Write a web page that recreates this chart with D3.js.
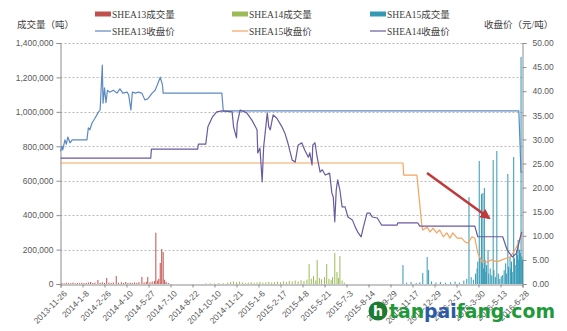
<!DOCTYPE html>
<html><head><meta charset="utf-8">
<script src="https://cdn.jsdelivr.net/npm/d3@7"></script>
<style>
html,body{margin:0;padding:0;background:#fff;}
svg{display:block;}
</style></head>
<body>
<svg id="chart" width="567" height="331"></svg>
<script>
// ---------- DATA ----------
// x positions are trading-day indices (0 = 2013-11-26), ticks every 30 trading days
const xTickLabels = ["2013-11-26","2014-1-8","2014-2-26","2014-4-10","2014-5-27","2014-7-10","2014-8-22","2014-10-10","2014-11-21","2015-1-6","2015-2-17","2015-4-8","2015-5-21","2015-7-3","2015-8-14","2015-9-29","2015-11-17","2015-12-29","2016-2-17","2016-3-30","2016-5-13","2016-6-28"];
const leftTicks = [0,200000,400000,600000,800000,1000000,1200000,1400000];
const rightTicks = [0,5,10,15,20,25,30,35,40,45,50];

const seriesNames = ["SHEA13成交量","SHEA14成交量","SHEA15成交量","SHEA13收盘价","SHEA15收盘价","SHEA14收盘价"];

// volume (tons) [dayIndex, volume]
const vol13 = [[2,6000],[5,4000],[8,7000],[11,5000],[14,5000],[17,8000],[20,4000],[23,6000],[26,5000],[29,7000],[32,5000],[35,6000],[38,9000],[41,12000],[44,6000],[47,8000],[51,23000],[54,7000],[57,10000],[60,6000],[63,35000],[66,8000],[69,6000],[72,9000],[76,46000],[79,7000],[83,10000],[86,6000],[89,12000],[92,5000],[95,8000],[98,6000],[101,9000],[104,7000],[107,11000],[111,41000],[114,9000],[117,13000],[119,41000],[122,10000],[125,14000],[128,18000],[130,298000],[132,20000],[134,30000],[136,122000],[138,203000],[140,186000],[142,25000],[144,12000],[147,6000]];
const vol14 = [[198,4000],[204,5000],[210,3000],[216,6000],[222,5000],[228,8000],[232,12000],[236,15000],[240,10000],[244,14000],[248,9000],[252,6000],[256,8000],[260,11000],[264,7000],[268,9000],[272,12000],[276,8000],[280,10000],[284,13000],[288,9000],[292,11000],[296,14000],[300,10000],[304,16000],[308,12000],[312,18000],[316,14000],[320,20000],[324,15000],[328,22000],[332,18000],[336,25000],[339,116000],[342,30000],[345,46000],[348,20000],[350,139000],[353,35000],[356,28000],[360,40000],[363,116000],[366,30000],[369,22000],[371,40000],[374,180000],[377,70000],[379,35000],[381,163000],[384,20000],[387,8000]];
const vol15 = [[467,110000],[472,8000],[478,12000],[485,6000],[490,10000],[494,64000],[500,157000],[502,81000],[506,15000],[512,9000],[518,12000],[525,7000],[532,10000],[538,14000],[544,8000],[550,20000],[554,30000],[557,505000],[560,40000],[563,25000],[566,60000],[568,90000],[569,130000],[571,715000],[572,150000],[574,523000],[575,120000],[576,529000],[577,90000],[578,558000],[579,140000],[580,70000],[581,110000],[583,198000],[584,60000],[586,90000],[588,50000],[590,720000],[591,80000],[593,40000],[595,773000],[597,60000],[599,30000],[601,45000],[603,52000],[605,80000],[607,120000],[608,60000],[610,639000],[611,100000],[613,157000],[614,90000],[615,130000],[616,70000],[618,738000],[619,150000],[620,110000],[622,198000],[623,170000],[624,256000],[625,140000],[626,200000],[627,180000],[628,1319000],[629,160000],[630,140000]];

// closing price (yuan/ton) [dayIndex, price]
const price13 = [[0,27.5],[2,28.6],[3,27.8],[6,29.9],[8,29.0],[10,30.5],[13,29.3],[16,29.9],[36,29.9],[38,32.4],[40,32.0],[43,33.4],[47,34.4],[51,35.5],[54,36.1],[57,45.4],[58,37.5],[60,40.7],[62,37.6],[64,40.2],[67,39.8],[72,40.2],[77,39.6],[81,40.5],[85,39.6],[91,39.8],[93,39.2],[96,36.1],[98,39.8],[102,39.6],[106,39.8],[111,39.6],[115,38.2],[119,38.4],[125,39.6],[129,40.2],[132,41.3],[136,42.9],[139,41.3],[140,39.6],[220,39.6],[222,35.9],[625,35.9],[628,23.2],[630,23.2]];
const price14 = [[0,26.1],[123,26.1],[124,28.0],[187,28.0],[188,29.0],[198,29.0],[201,32.6],[207,34.6],[213,35.7],[220,35.9],[234,35.7],[236,32.6],[240,30.3],[241,33.4],[245,36.1],[254,35.5],[261,34.0],[268,32.0],[269,27.2],[272,28.2],[275,21.2],[277,28.4],[282,35.5],[284,32.6],[286,32.0],[290,35.1],[295,34.4],[302,32.6],[306,31.3],[310,29.3],[316,25.7],[320,25.3],[324,28.8],[329,29.3],[333,27.8],[338,26.3],[340,27.2],[343,24.7],[344,28.8],[347,29.3],[350,26.3],[354,23.2],[357,23.7],[361,22.6],[367,23.0],[370,18.9],[372,18.0],[374,12.9],[376,19.5],[378,21.6],[381,19.5],[384,16.0],[388,16.0],[392,13.9],[398,13.3],[402,11.8],[406,10.6],[410,9.8],[413,11.8],[418,14.7],[422,14.7],[425,13.9],[432,13.7],[438,12.2],[459,12.2],[460,12.7],[487,12.7],[490,12.0],[565,12.0],[569,9.8],[603,9.8],[609,7.1],[616,5.6],[622,6.4],[626,9.1],[629,10.8]];
const price15 = [[0,25.1],[467,25.1],[468,22.6],[486,22.6],[493,11.8],[494,11.2],[500,11.8],[504,10.8],[508,11.6],[513,10.6],[517,11.2],[522,9.8],[527,10.6],[531,9.5],[535,10.6],[541,9.5],[547,9.5],[552,8.7],[556,8.5],[561,9.8],[565,9.5],[569,6.4],[575,4.6],[582,4.6],[588,5.0],[595,4.6],[602,5.0],[609,5.4],[613,5.6],[617,6.4],[622,7.7],[626,9.1],[629,10.8]];

// ---------- CHART ----------
const svg = d3.select("#chart");
const colors = {v13:"#c0504d", v14:"#9bbb59", v15:"#3399b5", p13:"#5d89c2", p15:"#f5a460", p14:"#6a5a9e"};
const fontLatin = "'Liberation Serif','Noto Sans CJK SC',serif";
const fontNum = "'Liberation Sans',Arial,sans-serif";

const x = d3.scaleLinear().domain([0,630]).range([60.5,522.5]);
const yL = d3.scaleLinear().domain([0,1400000]).range([284,43]);
const yR = d3.scaleLinear().domain([0,50]).range([284,43]);

// gridlines
svg.append("g").selectAll("line").data(leftTicks.filter(d=>d>0)).join("line")
  .attr("x1",60.5).attr("x2",522.5)
  .attr("y1",d=>Math.round(yL(d))+0.5).attr("y2",d=>Math.round(yL(d))+0.5)
  .attr("stroke","#a6a6a6").attr("stroke-width",0.8).attr("stroke-dasharray","2,2");

// axes
const fmt = d3.format(",");
const gL = svg.append("g").attr("transform","translate(60.5,0)")
  .call(d3.axisLeft(yL).tickValues(leftTicks).tickFormat(fmt).tickSize(4).tickPadding(3));
const gR = svg.append("g").attr("transform","translate(522.5,0)")
  .call(d3.axisRight(yR).tickValues(rightTicks).tickFormat(d3.format(".2f")).tickSize(4).tickPadding(6));
const gB = svg.append("g").attr("transform","translate(0,284.5)")
  .call(d3.axisBottom(x).tickValues(xTickLabels.map((d,i)=>i*30)).tickFormat((d,i)=>xTickLabels[i]).tickSize(3).tickPadding(2));
[gL,gR,gB].forEach(g=>{
  g.select(".domain").attr("stroke","#8c8c8c");
  g.selectAll(".tick line").attr("stroke","#8c8c8c");
  g.selectAll("text").attr("fill","#595959").style("font-family",fontNum).style("font-size","8.5px");
});
gB.selectAll("text").attr("text-anchor","end").attr("dx","0").attr("dy","0")
  .attr("transform","translate(3,6) rotate(-45)");

// bars
function bars(data,color){
  svg.append("g").selectAll("rect").data(data).join("rect")
    .attr("x",d=>x(d[0])-0.5).attr("width",1)
    .attr("y",d=>yL(d[1])).attr("height",d=>yL(0)-yL(d[1]))
    .attr("fill",color);
}
bars(vol13,colors.v13);
bars(vol14,colors.v14);
bars(vol15,colors.v15);

// lines
const line = d3.line().x(d=>x(d[0])).y(d=>yR(d[1]));
function drawLine(data,color){
  svg.append("path").datum(data).attr("d",line).attr("fill","none")
    .attr("stroke",color).attr("stroke-width",1.2).attr("stroke-linejoin","round");
}
drawLine(price13,colors.p13);
drawLine(price15,colors.p15);
drawLine(price14,colors.p14);

// axis titles
svg.append("text").attr("x",17).attr("y",28).text("成交量（吨）")
  .style("font-family",fontLatin).style("font-size","9.5px").attr("fill","#404040");
svg.append("text").attr("x",484).attr("y",28).text("收盘价（元/吨）")
  .style("font-family",fontLatin).style("font-size","9.5px").attr("fill","#404040");

// legend
const legendItems = [
  {name:seriesNames[0],color:colors.v13,type:"bar",x:95,y:14},
  {name:seriesNames[1],color:colors.v14,type:"bar",x:232,y:14},
  {name:seriesNames[2],color:colors.v15,type:"bar",x:370,y:14},
  {name:seriesNames[3],color:colors.p13,type:"line",x:95,y:31},
  {name:seriesNames[4],color:colors.p15,type:"line",x:232,y:31},
  {name:seriesNames[5],color:colors.p14,type:"line",x:370,y:31}
];
const lg = svg.append("g").selectAll("g").data(legendItems).join("g")
  .attr("transform",d=>`translate(${d.x},${d.y})`);
lg.filter(d=>d.type==="bar").append("rect").attr("x",0).attr("y",-2.5).attr("width",16).attr("height",5).attr("fill",d=>d.color);
lg.filter(d=>d.type==="line").append("line").attr("x1",0).attr("x2",16).attr("y1",0).attr("y2",0).attr("stroke",d=>d.color).attr("stroke-width",1.2);
lg.append("text").attr("x",17).attr("y",3.5).text(d=>d.name)
  .style("font-family",fontLatin).style("font-size","9.5px").attr("fill","#404040");

// annotation arrow
svg.append("defs").append("marker").attr("id","ah").attr("viewBox","0 0 10 10")
  .attr("refX",8).attr("refY",5).attr("markerWidth",4).attr("markerHeight",4).attr("orient","auto")
  .append("path").attr("d","M0,0L10,5L0,10Z").attr("fill","#c0393b");
svg.append("line").attr("x1",427).attr("y1",173).attr("x2",489).attr("y2",218)
  .attr("stroke","#c0393b").attr("stroke-width",2.6).attr("marker-end","url(#ah)");

// watermark
const wm = svg.append("g");
wm.append("circle").attr("cx",378).attr("cy",311).attr("r",9.5).attr("fill","#1d7a33");
wm.append("text").attr("x",378).attr("y",316).attr("text-anchor","middle").text("h")
  .style("font-family","'DejaVu Sans',sans-serif").style("font-weight","bold").style("font-size","14px").attr("fill","#fff");
const wt = wm.append("text").attr("x",389).attr("y",318)
  .attr("textLength",166).attr("lengthAdjust","spacingAndGlyphs")
  .style("font-family","'DejaVu Sans',sans-serif").style("font-weight","bold").style("font-size","20px");
wt.append("tspan").text("tan").attr("fill","#1f9a3a");
wt.append("tspan").text("pai").attr("fill","#2c5aa6");
wt.append("tspan").text("fang.com").attr("fill","#1f9a3a");
</script>
</body></html>
